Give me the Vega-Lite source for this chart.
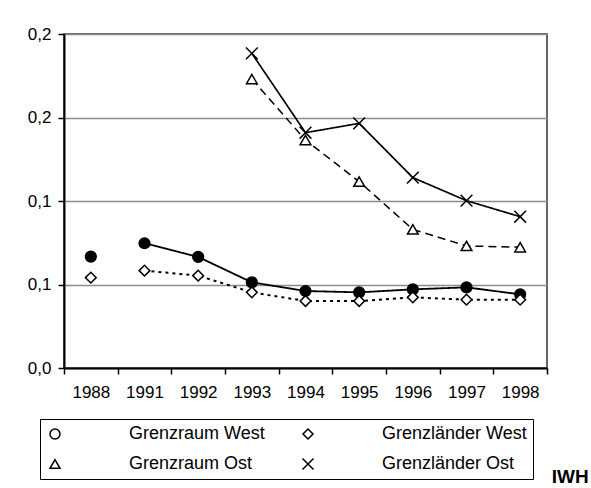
{
  "$schema": "https://vega.github.io/schema/vega-lite/v6.json",
  "width": 483,
  "height": 334,
  "autosize": {"type": "none"},
  "padding": {"left": 64, "top": 34, "right": 44, "bottom": 120},
  "background": "white",
  "config": {
    "font": "Liberation Sans",
    "view": {"stroke": "#333333", "strokeWidth": 1.5},
    "axis": {"labelFont": "Liberation Sans", "labelFontSize": 17, "labelColor": "black", "domainColor": "black", "domainWidth": 2, "tickColor": "black", "tickWidth": 1.5, "tickSize": 6, "title": null}
  },
  "title": {"text": "IWH", "orient": "bottom", "anchor": "end", "align": "left", "dx": 4, "offset": -12, "fontSize": 19, "fontWeight": "bold", "font": "Liberation Sans", "color": "black"},
  "data": {"values": [
    {"year": "1988", "series": "Grenzraum West", "value": 0.0667},
    {"year": "1991", "series": "Grenzraum West", "value": 0.0747},
    {"year": "1992", "series": "Grenzraum West", "value": 0.0665},
    {"year": "1993", "series": "Grenzraum West", "value": 0.0513},
    {"year": "1994", "series": "Grenzraum West", "value": 0.0461},
    {"year": "1995", "series": "Grenzraum West", "value": 0.0453},
    {"year": "1996", "series": "Grenzraum West", "value": 0.0471},
    {"year": "1997", "series": "Grenzraum West", "value": 0.0483},
    {"year": "1998", "series": "Grenzraum West", "value": 0.0441},
    {"year": "1988", "series": "Grenzländer West", "value": 0.0541},
    {"year": "1991", "series": "Grenzländer West", "value": 0.0583},
    {"year": "1992", "series": "Grenzländer West", "value": 0.0553},
    {"year": "1993", "series": "Grenzländer West", "value": 0.0453},
    {"year": "1994", "series": "Grenzländer West", "value": 0.0401},
    {"year": "1995", "series": "Grenzländer West", "value": 0.0401},
    {"year": "1996", "series": "Grenzländer West", "value": 0.0423},
    {"year": "1997", "series": "Grenzländer West", "value": 0.0409},
    {"year": "1998", "series": "Grenzländer West", "value": 0.0409},
    {"year": "1993", "series": "Grenzraum Ost", "value": 0.173},
    {"year": "1994", "series": "Grenzraum Ost", "value": 0.1365},
    {"year": "1995", "series": "Grenzraum Ost", "value": 0.1116},
    {"year": "1996", "series": "Grenzraum Ost", "value": 0.083},
    {"year": "1997", "series": "Grenzraum Ost", "value": 0.0731},
    {"year": "1998", "series": "Grenzraum Ost", "value": 0.0723},
    {"year": "1993", "series": "Grenzländer Ost", "value": 0.1884},
    {"year": "1994", "series": "Grenzländer Ost", "value": 0.1409},
    {"year": "1995", "series": "Grenzländer Ost", "value": 0.1465},
    {"year": "1996", "series": "Grenzländer Ost", "value": 0.114},
    {"year": "1997", "series": "Grenzländer Ost", "value": 0.1002},
    {"year": "1998", "series": "Grenzländer Ost", "value": 0.0906}
  ]},
  "encoding": {
    "x": {"field": "year", "type": "ordinal", "sort": ["1988","1991","1992","1993","1994","1995","1996","1997","1998"],
          "scale": {"type": "band", "paddingInner": 0, "paddingOuter": 0},
          "axis": {"labelAngle": 0, "tickBand": "extent", "labelPadding": 10, "grid": false}},
    "y": {"field": "value", "type": "quantitative",
          "scale": {"domain": [0, 0.2], "nice": false, "zero": true},
          "axis": {"values": [0, 0.05, 0.1, 0.15, 0.2], "labelExpr": "replace(format(round(datum.value*10)/10, '.1f'), '.', ',')", "grid": true, "gridColor": "#8c8c8c", "gridWidth": 1.5, "labelPadding": 7}}
  },
  "layer": [
    {
      "transform": [{"filter": "datum.year != '1988'"}],
      "mark": {"type": "line", "color": "black"},
      "encoding": {
        "detail": {"field": "series"},
        "strokeDash": {"field": "series", "type": "nominal", "legend": null,
          "scale": {"domain": ["Grenzländer Ost","Grenzraum Ost","Grenzländer West","Grenzraum West"], "range": [[1,0],[8,5],[3,4],[1,0]]}},
        "strokeWidth": {"field": "series", "type": "nominal", "legend": null,
          "scale": {"domain": ["Grenzländer West","Grenzraum West","Grenzländer Ost","Grenzraum Ost"], "range": [2, 1.5, 1.5, 1.2]}}
      }
    },
    {
      "mark": {"type": "point", "opacity": 1, "stroke": "black", "strokeWidth": 1.5, "size": 115},
      "encoding": {
        "shape": {"field": "series", "type": "nominal",
          "scale": {"domain": ["Grenzraum West","Grenzländer West","Grenzraum Ost","Grenzländer Ost"], "range": ["circle","diamond","triangle-up","M-1.1,-1.1L1.1,1.1M-1.1,1.1L1.1,-1.1"]},
          "legend": {
            "title": null, "orient": "none", "legendX": -24, "legendY": 385, "columns": 2, "direction": "horizontal",
            "strokeColor": "black", "padding": 6, "columnPadding": 34, "rowPadding": 12, "labelOffset": 65,
            "labelFont": "Liberation Sans", "labelFontSize": 18, "labelColor": "black", "labelLimit": 300,
            "encode": {"symbols": {
              "shape": {"signal": "datum.value === 'Grenzraum West' ? 'M-7,0L7,0M0.8,0A0.8,0.8 0 1,1 -0.8,0A0.8,0.8 0 1,1 0.8,0Z' : datum.value === 'Grenzländer West' ? 'M-6.8,0L-5.9,0M-5.1,0L-4.2,0M-3.4,0L-2.5,0M1.6,0L2.5,0M3.3,0L4.2,0M5,0L5.9,0M0,-0.9L0.9,0L0,0.9L-0.9,0Z' : datum.value === 'Grenzraum Ost' ? 'M-7.2,0L-5.4,0M-3.4,0L-0.6,0M0.6,0L3.8,0M5,0L6.8,0M0,-1L1,0.7L-1,0.7Z' : 'M-7,0L7,0M-0.8,-0.8L0.8,0.8M-0.8,0.8L0.8,-0.8'"},
              "size": {"value": 100},
              "dx": {"value": 35},
              "fill": {"signal": "datum.value === 'Grenzraum West' ? 'black' : 'white'"},
              "stroke": {"value": "black"},
              "strokeWidth": {"value": 1.5},
              "opacity": {"value": 1}
            }}
          }},
        "fill": {"condition": {"test": "datum.series === 'Grenzraum West'", "value": "black"}, "value": "white"}
      }
    }
  ]
}
